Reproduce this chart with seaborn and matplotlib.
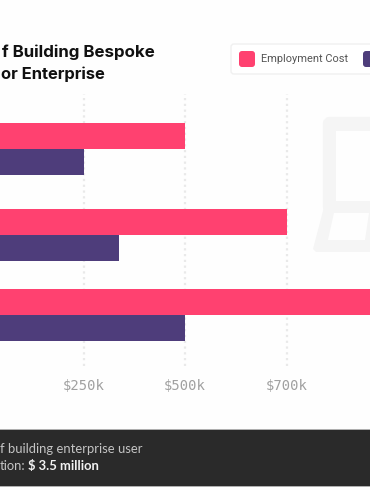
import pandas as pd
import matplotlib
matplotlib.use("Agg")
import matplotlib.pyplot as plt
import seaborn as sns
from matplotlib.patches import FancyBboxPatch, Polygon, Rectangle

# the reference is cropped, so only what is visible gets drawn
GROUPS = [149, 235, 315]  # row centres, rows are not evenly spaced in the picture
EMPLOYMENT = [500, 750, 1000]  # in axis units, the tick spacing is even
OTHER = [250, 337, 500]
TICK_POS = [250, 500, 750]
TICK_LABELS = ["$250k", "$500k", "$700k"]
SERIES = ["Employment Cost", "Other"]

PINK = "#ff4170"
PURPLE = "#4e3d7b"
WIDTH, HEIGHT = 370, 490
FOOT_FONT = ["Lato", "DejaVu Sans"]

sns.set_style("white")
plt.rcParams["font.family"] = ["Inter", "DejaVu Sans"]

fig = plt.figure(figsize=(WIDTH / 100, HEIGHT / 100), dpi=100, facecolor="#fefefe")

# overlay in pixel coordinates, for everything that is not data
bg = fig.add_axes([0, 0, 1, 1], zorder=0)
bg.set_xlim(0, WIDTH)
bg.set_ylim(HEIGHT, 0)
bg.axis("off")

# laptop watermark
icon = "#f5f5f5"
bg.add_patch(FancyBboxPatch((327, 121), 80, 88, boxstyle="round,pad=0,rounding_size=3",
                            fc=icon, ec=icon, lw=6, mutation_aspect=1))
bg.add_patch(Rectangle((336, 131), 70, 70, fc="#fefefe", ec="none"))
bg.add_patch(Polygon([(324, 207), (400, 207), (400, 252), (316, 252), (313, 249)], fc=icon, ec="none"))
bg.add_patch(Polygon([(334, 213), (369, 213), (365, 240), (328, 240)], fc="#fefefe", ec="none"))

# chart
ax = fig.add_axes([0, (HEIGHT - 366) / HEIGHT, 1, 272 / HEIGHT], zorder=1)
ax.patch.set_alpha(0)

df = pd.DataFrame({
    "row": GROUPS * 2,
    "value": EMPLOYMENT + OTHER,
    "series": [SERIES[0]] * len(GROUPS) + [SERIES[1]] * len(GROUPS),
})
sns.barplot(data=df, x="value", y="row", hue="series", orient="y", native_scale=True,
            palette=[PINK, PURPLE], width=0.65, gap=0, saturation=1, legend=False,
            linewidth=0, ax=ax)

ax.set_xlim(44.3, 955.6)
ax.set_ylim(366, 94)
ax.set_xlabel("")
ax.set_ylabel("")
ax.set_yticks([])
ax.set_xticks(TICK_POS)
ax.set_xticklabels(TICK_LABELS, family="DejaVu Sans Mono", fontsize=10, color="#a0a0a0")
ax.tick_params(axis="x", length=0, pad=9)
ax.grid(axis="x", color="#e9e9e9", linestyle=(0, (1, 1.6)), linewidth=1.6)
ax.set_axisbelow(True)
sns.despine(ax=ax, left=True, bottom=True)

# things above the chart
top = fig.add_axes([0, 0, 1, 1], zorder=2)
top.set_xlim(0, WIDTH)
top.set_ylim(HEIGHT, 0)
top.axis("off")

top.text(155, 52, "f Building Bespoke", fontsize=12.2, fontweight="bold", color="#111111",
         va="center", ha="right")
top.text(1, 74.5, "or Enterprise", fontsize=11.9, fontweight="bold", color="#111111",
         va="center", ha="left")

# legend
top.add_patch(FancyBboxPatch((231, 44), 170, 30, boxstyle="round,pad=0,rounding_size=3",
                             fc="#ffffff", ec="#f0f0f0", lw=1))
top.add_patch(FancyBboxPatch((239, 51), 16, 16, boxstyle="round,pad=0,rounding_size=3", fc=PINK, ec="none"))
top.add_patch(FancyBboxPatch((363, 51), 16, 16, boxstyle="round,pad=0,rounding_size=3", fc=PURPLE, ec="none"))
top.text(261, 58.5, SERIES[0], fontsize=7.95, color="#555555", va="center",
         family=["Roboto", "DejaVu Sans"])

# footer band
top.add_patch(Rectangle((-5, 429), WIDTH + 10, 57, fc="#2a2a2a", ec="#b5b5b5", lw=0.6))
top.text(142, 449, "f building enterprise user", fontsize=9.4, color="#c4c4c4", va="center",
         ha="right", family=FOOT_FONT)
top.text(25, 466, "tion:", fontsize=9.4, color="#c4c4c4", va="center", ha="right", family=FOOT_FONT)
top.text(28, 466, "$ 3.5 million", fontsize=9.4, fontweight="bold", color="#f2f2f2", va="center",
         family=FOOT_FONT)

fig.savefig("out.png", dpi=100, facecolor=fig.get_facecolor())
plt.close(fig)
